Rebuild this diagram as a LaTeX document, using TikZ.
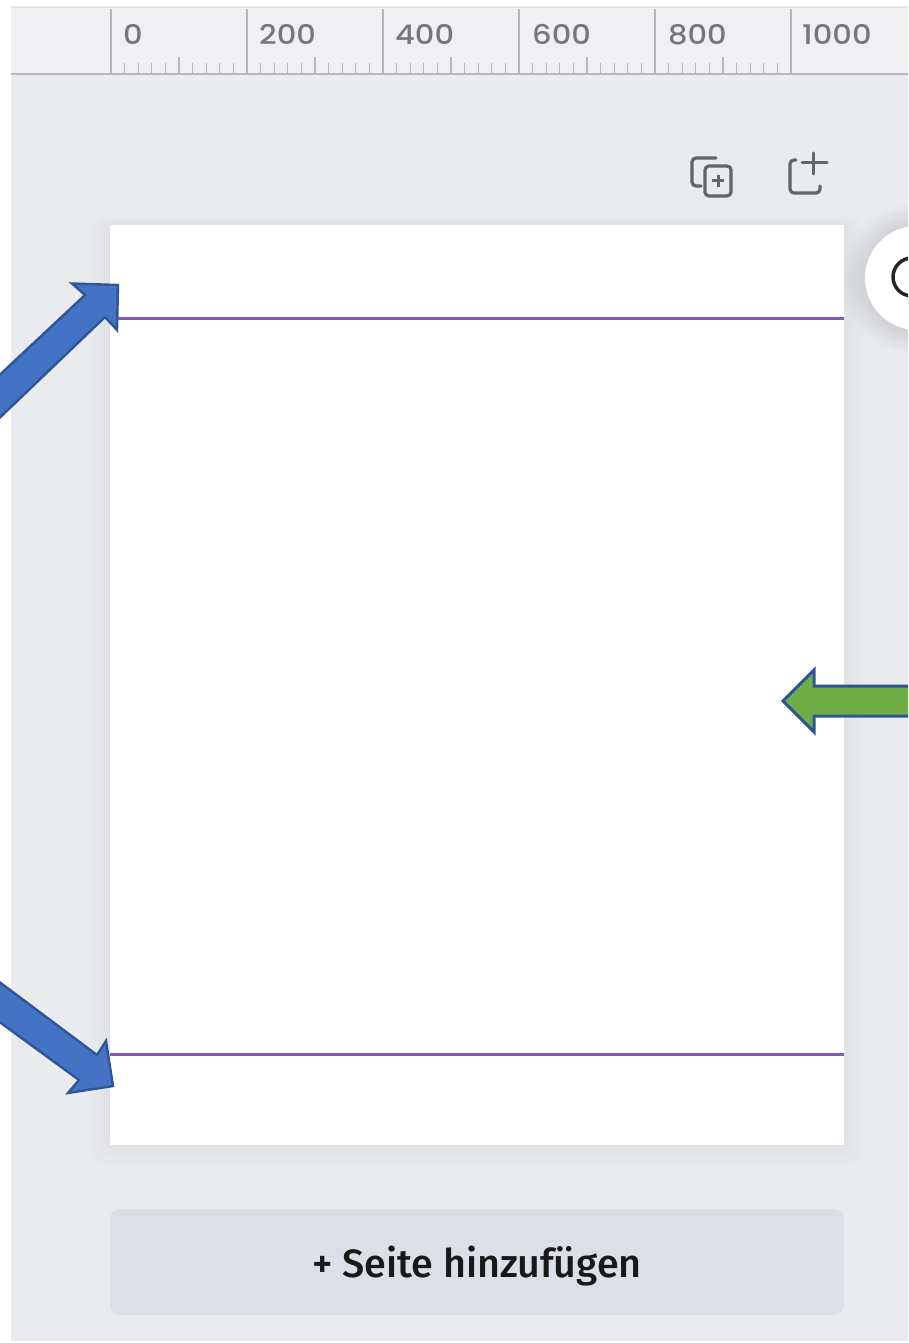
\documentclass[tikz,border=0pt]{standalone}
\usepackage{fontspec}
\newfontfamily\numfont[FakeStretch=1.13]{Poppins Medium}
\newfontfamily\btnfont{Fira Sans Medium}
\definecolor{bgc}{HTML}{EAEBEF}
\definecolor{rulerc}{HTML}{F0F0F3}
\definecolor{tickc}{HTML}{B4B7BB}
\definecolor{numc}{HTML}{74777C}
\definecolor{iconc}{HTML}{62656A}
\definecolor{purplec}{HTML}{8556BC}
\definecolor{btnc}{HTML}{DCE0E6}
\definecolor{bluef}{HTML}{4472C4}
\definecolor{blued}{HTML}{2F5597}
\definecolor{greenf}{HTML}{70AD47}
\tikzset{
  rulernum/.style={anchor=base west,inner sep=0pt,text=numc,font=\numfont\fontsize{27}{27}\selectfont},
  majortick/.style={draw=tickc,line width=2.2pt},
  minortick/.style={draw=tickc,line width=1.3pt},
  guide/.style={draw=purplec,line width=3pt},
  bluearrow/.style={fill=bluef,draw=blued,line width=2.4pt,line join=miter},
  greenarrow/.style={fill=greenf,draw=blued,line width=3pt,line join=miter},
  iconline/.style={draw=iconc,line width=3.2pt,line cap=round,rounded corners=4pt},
  softshadow/.style={fill=black,opacity=.0045,rounded corners=12pt}
}
\begin{document}
\begin{tikzpicture}[x=1pt,y=-1pt]
\useasboundingbox (0,0) rectangle (908,1343);
\begin{scope}
\clip (0,0) rectangle (908,1343);
\fill[white] (0,0) rectangle (908,1343);
\fill[bgc] (11,6) rectangle (908,1341);
\fill[rulerc] (11,8) rectangle (908,74);
\draw[draw=bgc!90!gray,line width=1.6pt] (11,7.5) -- (908,7.5);
% ruler ticks
\foreach \m in {111,247,383,519,655,791}{
  \draw[majortick] (\m,9) -- (\m,74);
}
\foreach \m in {111,247,383,519,655}{
  \foreach \k in {1,2,3,4,6,7,8,9}{
    \draw[minortick] ({\m+\k*13.6},63) -- ({\m+\k*13.6},74);
  }
  \draw[minortick] ({\m+68},57) -- ({\m+68},74);
}
\draw[majortick] (11,74) -- (908,74);
\node[rulernum] (n0) at (123,45) {0};
\node[rulernum] (n200) at (259,45) {200};
\node[rulernum] (n400) at (395,45) {400};
\node[rulernum] (n600) at (532,45) {600};
\node[rulernum] (n800) at (668,45) {800};
\node[rulernum] (n1000) at (802,45) {1000};
% icons
\draw[iconline] (716,158) -- (692,158) -- (692,186) -- (701,186);
\draw[iconline] (705,166) rectangle (731,196);
\draw[draw=iconc,line width=3pt] (712,181) -- (724,181) (718,175) -- (718,187);
\draw[iconline] (796,160) -- (790,160) -- (790,193) -- (820,193) -- (820,186);
\draw[draw=iconc,line width=3pt,line cap=round] (802,163) -- (827,163) (813.5,153) -- (813.5,174);
% page shadow
\foreach \d in {2,4,...,20}{
  \fill[softshadow] ({110-\d},{225-\d/2}) rectangle ({844+\d},{1145+\d});
}
\fill[white] (110,225) rectangle (844,1145);
% round button
\foreach \d in {2,4,...,24}{
  \fill[black,opacity=.009] (917,279) circle ({52+\d});
}
\fill[white] (917,278) circle (52);
\draw[black!85,line width=3.5pt] (912,277) circle (19);
% guides
\draw[guide] (110,318) -- (844,318);
\draw[guide] (110,1054) -- (844,1054);
% add-page button
\node[fill=btnc,rounded corners=10pt,minimum width=734pt,minimum height=106pt,inner sep=0pt,outer sep=0pt] (addpage) at (477,1262) {};
\node[inner sep=0pt,anchor=base,text=black!90,font=\btnfont\fontsize{39.5}{39.5}\selectfont] (addlabel) at (477,1277) {+ Seite hinzufügen};
% arrows
\draw[bluearrow] (118,285) -- (72,283.5) -- (85,295) -- (-10,384) -- (-10,427) -- (105,317) -- (117,330) -- cycle;
\draw[bluearrow] (113,1086) -- (106,1041) -- (97,1055) -- (-10,975) -- (-10,1015) -- (79,1080) -- (68,1093) -- cycle;
\draw[greenarrow] (783,701) -- (814,670) -- (814,686) -- (920,686) -- (920,716) -- (814,716) -- (814,732) -- cycle;
\end{scope}
\end{tikzpicture}
\end{document}
